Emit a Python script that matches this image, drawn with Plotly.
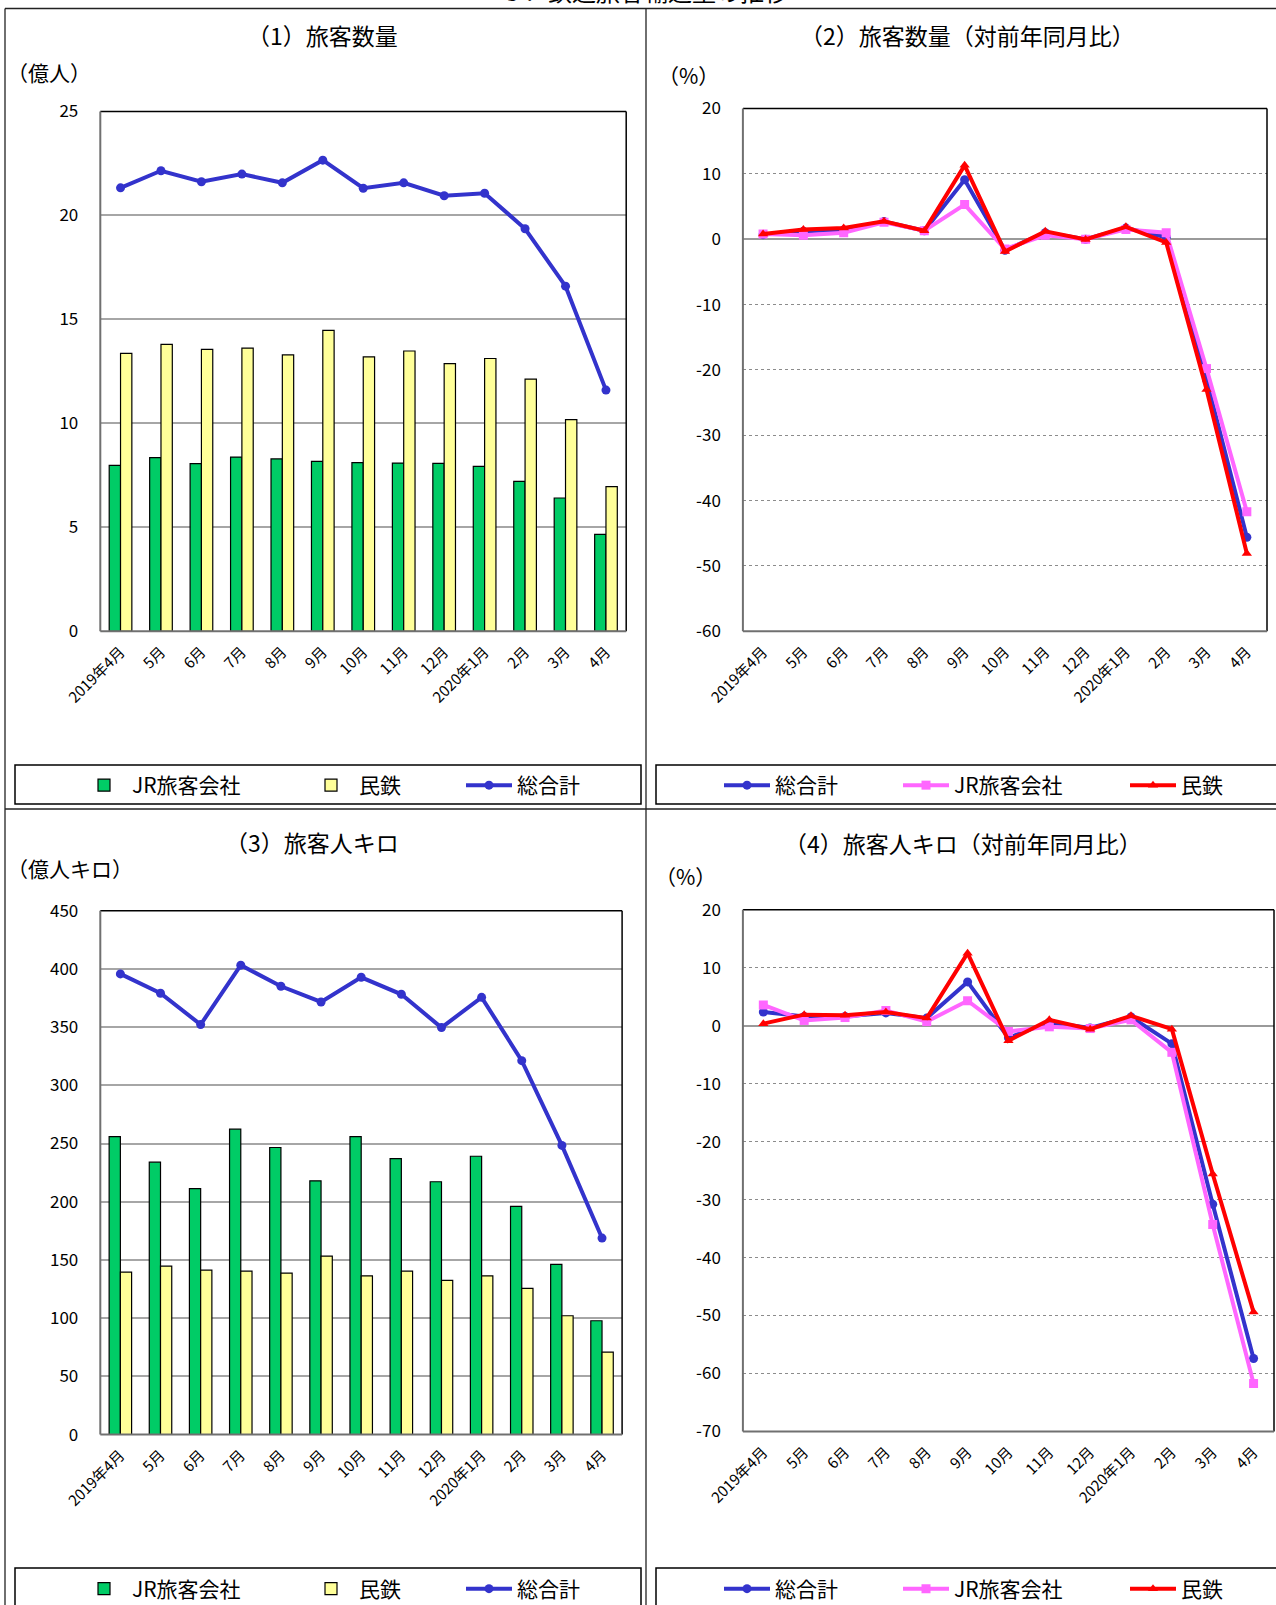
import plotly.graph_objects as go

# ---------------- data ----------------
months = ["2019年4月", "5月", "6月", "7月", "8月", "9月", "10月", "11月", "12月",
          "2020年1月", "2月", "3月", "4月"]

# (1) 旅客数量 (億人)
p_jr = [7.98, 8.35, 8.06, 8.38, 8.29, 8.17, 8.11, 8.09, 8.08, 7.93, 7.21, 6.41, 4.66]
p_private = [13.37, 13.80, 13.56, 13.62, 13.29, 14.47, 13.20, 13.48, 12.87, 13.12, 12.13, 10.18, 6.96]
p_total = [21.33, 22.15, 21.62, 21.99, 21.57, 22.66, 21.31, 21.57, 20.95, 21.07, 19.36, 16.60, 11.60]

# (2) 旅客数量 対前年同月比 (%)
pc_total = [0.7, 1.2, 1.4, 2.7, 1.3, 9.1, -1.7, 1.0, 0.0, 1.7, 0.3, -21.5, -45.6]
pc_jr = [0.8, 0.6, 1.0, 2.6, 1.3, 5.3, -1.5, 0.6, 0.0, 1.5, 1.0, -19.8, -41.7]
pc_private = [0.8, 1.5, 1.7, 2.75, 1.3, 11.3, -1.9, 1.2, -0.05, 1.9, -0.5, -23.0, -48.1]

# (3) 旅客人キロ (億人キロ)
k_jr = [256.0, 234.0, 211.2, 262.3, 246.6, 218.0, 256.0, 237.1, 217.2, 239.1, 196.0, 146.2, 97.8]
k_private = [139.6, 144.7, 141.3, 140.4, 138.7, 153.3, 136.4, 140.4, 132.4, 136.4, 125.6, 102.1, 70.9]
k_total = [395.7, 379.1, 352.2, 403.2, 385.1, 371.6, 392.8, 378.2, 349.6, 375.6, 321.2, 248.4, 168.8]

# (4) 旅客人キロ 対前年同月比 (%)
kc_total = [2.36, 1.6, 1.6, 2.2, 1.3, 7.55, -2.1, 0.6, -0.4, 1.5, -3.1, -30.8, -57.4]
kc_jr = [3.57, 0.9, 1.4, 2.6, 0.7, 4.3, -1.0, -0.2, -0.5, 1.0, -4.6, -34.3, -61.7]
kc_private = [0.35, 1.9, 1.8, 2.36, 1.3, 12.5, -2.6, 1.0, -0.6, 1.7, -0.6, -25.6, -49.4]

# y-axis ticks per panel
yticks1 = [0, 5, 10, 15, 20, 25]
yticks2 = [-60, -50, -40, -30, -20, -10, 0, 10, 20]
yticks3 = [0, 50, 100, 150, 200, 250, 300, 350, 400, 450]
yticks4 = [-70, -60, -50, -40, -30, -20, -10, 0, 10, 20]

titles = ["（1）旅客数量", "（2）旅客数量（対前年同月比）", "（3）旅客人キロ", "（4）旅客人キロ（対前年同月比）"]
units = ["（億人）", "（%）", "（億人キロ）", "（%）"]
name_jr, name_private, name_total = "JR旅客会社", "民鉄", "総合計"

# ---------------- styling ----------------
W, H = 1276, 1605
FONT = "Noto Sans CJK JP"
GREEN, YELLOW = "#00CC66", "#FFFF99"
BLUE, PINK, RED = "#3333CC", "#FF66FF", "#FF0000"


def fx(px):
    return px / W


def fy(py):
    return 1 - py / H


fig = go.Figure()

# panel geometry (pixels)
panels = {
    1: dict(x=(100.3, 626.2), y=(111.5, 631.3)),
    2: dict(x=(742.9, 1267.0), y=(108.5, 631.3)),
    3: dict(x=(100.3, 622.1), y=(910.7, 1434.6)),
    4: dict(x=(742.9, 1274.0), y=(909.7, 1431.5)),
}

# legend item positions: (x of text start, y center) in pixels
leg_pos = {
    "legend": (133, 785.5), "legend2": (360, 785.5), "legend3": (518, 785.5),
    "legend4": (776, 785.5), "legend5": (955, 785.5), "legend6": (1182, 785.5),
    "legend7": (133, 1589), "legend8": (360, 1589), "legend9": (518, 1589),
    "legend10": (776, 1589), "legend11": (955, 1589), "legend12": (1182, 1589),
}


def add_bar(vals, name, color, ax, leg):
    fig.add_trace(go.Bar(x=months, y=vals, name=name, showlegend=True,
                         marker=dict(color=color, line=dict(color="#000000", width=1.2)),
                         xaxis="x" + ax, yaxis="y" + ax, legend=leg))


def add_line(vals, name, color, symbol, ax, leg):
    fig.add_trace(go.Scatter(x=months, y=vals, name=name, mode="lines+markers", showlegend=True,
                             line=dict(color=color, width=4),
                             marker=dict(color=color, symbol=symbol, size=9),
                             xaxis="x" + ax, yaxis="y" + ax, legend=leg))


# panel 1
add_bar(p_jr, name_jr, GREEN, "", "legend")
add_bar(p_private, name_private, YELLOW, "", "legend2")
add_line(p_total, name_total, BLUE, "circle", "", "legend3")
# panel 2
add_line(pc_total, name_total, BLUE, "circle", "2", "legend4")
add_line(pc_jr, name_jr, PINK, "square", "2", "legend5")
add_line(pc_private, name_private, RED, "triangle-up", "2", "legend6")
# panel 3
add_bar(k_jr, name_jr, GREEN, "3", "legend7")
add_bar(k_private, name_private, YELLOW, "3", "legend8")
add_line(k_total, name_total, BLUE, "circle", "3", "legend9")
# panel 4
add_line(kc_total, name_total, BLUE, "circle", "4", "legend10")
add_line(kc_jr, name_jr, PINK, "square", "4", "legend11")
add_line(kc_private, name_private, RED, "triangle-up", "4", "legend12")

layout = dict(
    width=W, height=H, margin=dict(l=0, r=0, t=0, b=0, autoexpand=False),
    paper_bgcolor="white", plot_bgcolor="white", showlegend=True,
    font=dict(family=FONT, color="#000000"),
    barmode="group", bargap=0.44, bargroupgap=0.0,
)

yinfo = {1: (yticks1, "solid"), 2: (yticks2, "dot"), 3: (yticks3, "solid"), 4: (yticks4, "dot")}
for i in range(1, 5):
    sfx = "" if i == 1 else str(i)
    g = panels[i]
    tv, dash = yinfo[i]
    layout["xaxis" + sfx] = dict(
        domain=[fx(g["x"][0]), fx(g["x"][1])], anchor="y" + sfx, type="category",
        range=[-0.5, 12.5], tickangle=-45, tickfont=dict(size=15, family=FONT),
        showline=False, showgrid=False, zeroline=False, ticks="", ticklabelstandoff=8,
        automargin=False,
    )
    layout["yaxis" + sfx] = dict(
        domain=[fy(g["y"][1]), fy(g["y"][0])], anchor="x" + sfx, range=[tv[0], tv[-1]],
        tickmode="array", tickvals=tv, ticktext=[str(v) for v in tv],
        tickfont=dict(size=17, family=FONT), showline=False,
        showgrid=True, gridcolor="#A6A6A6" if dash == "solid" else "#8C8C8C",
        gridwidth=1.5 if dash == "solid" else 1, griddash=dash,
        zeroline=(dash == "dot"), zerolinecolor="#9A9A9A", zerolinewidth=1.5,
        ticks="", ticklabelstandoff=21, automargin=False,
    )

shapes = []
for i in range(1, 5):
    g = panels[i]
    x0, x1 = fx(g["x"][0]), fx(g["x"][1])
    y0, y1 = fy(g["y"][1]), fy(g["y"][0])
    shapes.append(dict(type="line", xref="paper", yref="paper", x0=x0, x1=x1, y0=y1, y1=y1,
                       line=dict(color="#000000", width=1.5)))
    shapes.append(dict(type="line", xref="paper", yref="paper", x0=x1, x1=x1, y0=y0, y1=y1,
                       line=dict(color="#000000", width=1.5)))
    shapes.append(dict(type="line", xref="paper", yref="paper", x0=x0, x1=x0, y0=y0, y1=y1,
                       line=dict(color="#707070", width=2)))
    shapes.append(dict(type="line", xref="paper", yref="paper", x0=x0, x1=x1, y0=y0, y1=y0,
                       line=dict(color="#707070", width=2)))

# cell borders
for (a, b, c, d) in [(5, 8.5, 5, H + 5), (5, 8.5, W + 5, 8.5), (646, 8.5, 646, H + 5), (5, 809, W + 5, 809)]:
    shapes.append(dict(type="line", xref="paper", yref="paper", x0=fx(a), y0=fy(b), x1=fx(c), y1=fy(d),
                       line=dict(color="#222222", width=1.3)))
# legend boxes
for (a, b, c, d) in [(15, 765, 641, 804), (656, 765, W + 10, 804), (15, 1568, 641, H + 10), (656, 1568, W + 10, H + 10)]:
    shapes.append(dict(type="rect", xref="paper", yref="paper", x0=fx(a), y0=fy(d), x1=fx(c), y1=fy(b),
                       line=dict(color="#000000", width=1.5), fillcolor="rgba(0,0,0,0)"))
layout["shapes"] = shapes

# legends (one per item so that each can sit where the source puts it)
for name, (tx, cy) in leg_pos.items():
    layout[name] = dict(x=fx(tx - 57), y=fy(cy), xref="container", yref="container",
                        xanchor="left", yanchor="middle",
                        orientation="h", bgcolor="rgba(0,0,0,0)", borderwidth=0,
                        font=dict(size=21, family=FONT), itemwidth=46,
                        itemclick=False, itemdoubleclick=False)

ann = []
title_pos = [(322.5, 35), (967, 35), (311.5, 842), (963, 843)]
unit_pos = [(5, 72), (656, 75), (5, 868), (653, 876)]
for i in range(4):
    ann.append(dict(text=titles[i], xref="paper", yref="paper", x=fx(title_pos[i][0]), y=fy(title_pos[i][1]),
                    xanchor="center", yanchor="middle", showarrow=False, font=dict(size=23, family=FONT)))
    ann.append(dict(text=units[i], xref="paper", yref="paper", x=fx(unit_pos[i][0]), y=fy(unit_pos[i][1]),
                    xanchor="left", yanchor="middle", showarrow=False, font=dict(size=21, family=FONT)))
# partially visible page heading at the very top (cut by the page edge, as in the source)
ann.append(dict(text="３．鉄道旅客輸送量の推移", xref="paper", yref="paper", x=fx(644), y=fy(-9),
                xanchor="center", yanchor="middle", showarrow=False, font=dict(size=24, family=FONT)))
layout["annotations"] = ann

fig.update_layout(**layout)
fig.write_html("out.html", config={"displayModeBar": False},
               post_script="document.body.style.margin='0px';")
